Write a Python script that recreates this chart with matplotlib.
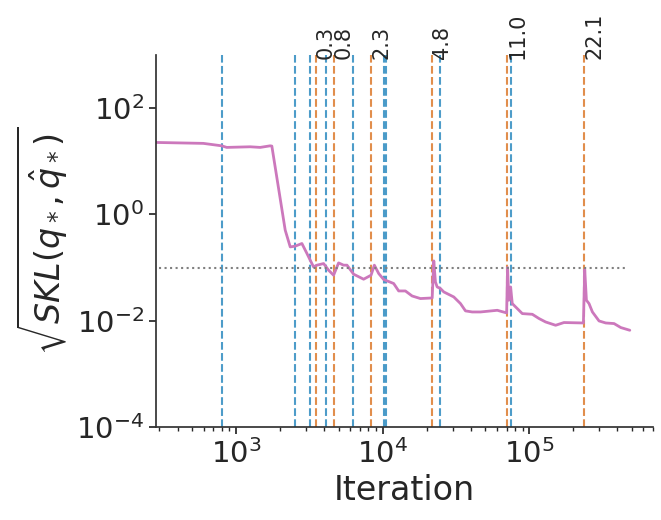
import numpy as np
import matplotlib
matplotlib.use("Agg")
import matplotlib.pyplot as plt
import matplotlib.ticker as mticker
import seaborn as sns

# distance curve (iteration, sqrt SKL)
iters = [280, 597, 798, 863, 1247, 1460, 1706, 1753, 2163, 2340, 2530, 2811,
         3043, 3375, 3561, 3953, 4277, 4626, 5003, 5411, 5710, 6338, 7413,
         8332, 8777, 9394, 10160, 11890, 12860, 14290, 15880, 18100, 21770,
         22330, 22910, 23540, 24790, 26120, 30560, 33960, 36730, 40820,
         46530, 60530, 70140, 71170, 72640, 74610, 76620, 82900, 89700,
         105000, 116500, 129400, 151400, 172600, 234300, 239200, 245600,
         255900, 269900, 299500, 332600, 379300, 421400, 485700]
skl = [22.7, 21.8, 19.6, 18.3, 18.8, 18.3, 19.6, 19.4, 0.506, 0.245, 0.253,
       0.284, 0.184, 0.103, 0.111, 0.119, 0.0892, 0.0718, 0.1225, 0.111,
       0.111, 0.075, 0.0604, 0.0718, 0.111, 0.0773, 0.0596, 0.0501, 0.0363,
       0.0363, 0.0292, 0.0261, 0.0268, 0.1336, 0.0537, 0.0432, 0.0403,
       0.0348, 0.028, 0.021, 0.0153, 0.0146, 0.0146, 0.0157, 0.014, 0.1002,
       0.0243, 0.0432, 0.021, 0.0169, 0.0136, 0.0132, 0.011, 0.00946,
       0.0082, 0.00923, 0.00906, 0.092, 0.0243, 0.021, 0.0146, 0.00989,
       0.00906, 0.00883, 0.00743, 0.0066]

# blue markers
blue_x = [798, 2518, 3206, 4105, 6280, 10190, 10590, 24790, 75400]
# orange markers + their labels
orange_x = [3508, 4653, 8340, 21780, 70800, 238000]
orange_lbl = ["0.3", "0.8", "2.3", "4.8", "11.0", "22.1"]

threshold = 0.1

sns.set_theme(style="ticks")
pal = sns.color_palette("colorblind")

fig = plt.figure(figsize=(6.61, 5.2), dpi=100)
ax = fig.add_axes([0.236, 0.179, 0.752, 0.715])

for xv in blue_x:
    ax.axvline(xv, color=pal[0], ls="--", lw=1.5, alpha=0.7)
for xv in orange_x:
    ax.axvline(xv, color=pal[3], ls="--", lw=1.5, alpha=0.7)

ax.plot(iters, skl, color=pal[4], lw=2)
ax.hlines(threshold, 300, 470000, colors="gray", linestyles=":", lw=1.5)

ax.set_xscale("log")
ax.set_yscale("log")
ax.set_xlim(284, 700000)
ax.set_ylim(1e-4, 1e3)
ax.set_yticks([1e-4, 1e-2, 1e0, 1e2])
ax.yaxis.set_minor_locator(mticker.NullLocator())

for xv, lbl in zip(orange_x, orange_lbl):
    ax.text(xv, 1e3, lbl, rotation=90, ha="left", fontsize=15, color="#262626")

ax.set_xlabel("Iteration", fontsize=24)
ax.set_ylabel(r"$\sqrt{SKL(q_*, \hat{q}_*)}$", fontsize=24)
ax.tick_params(axis="both", which="major", labelsize=21, length=5, width=1.25)
ax.tick_params(axis="x", which="minor", length=3, width=1)
for s in ["left", "bottom"]:
    ax.spines[s].set_linewidth(1.25)
    ax.spines[s].set_color("#333333")
sns.despine(ax=ax)

fig.savefig("out.png", dpi=100)
